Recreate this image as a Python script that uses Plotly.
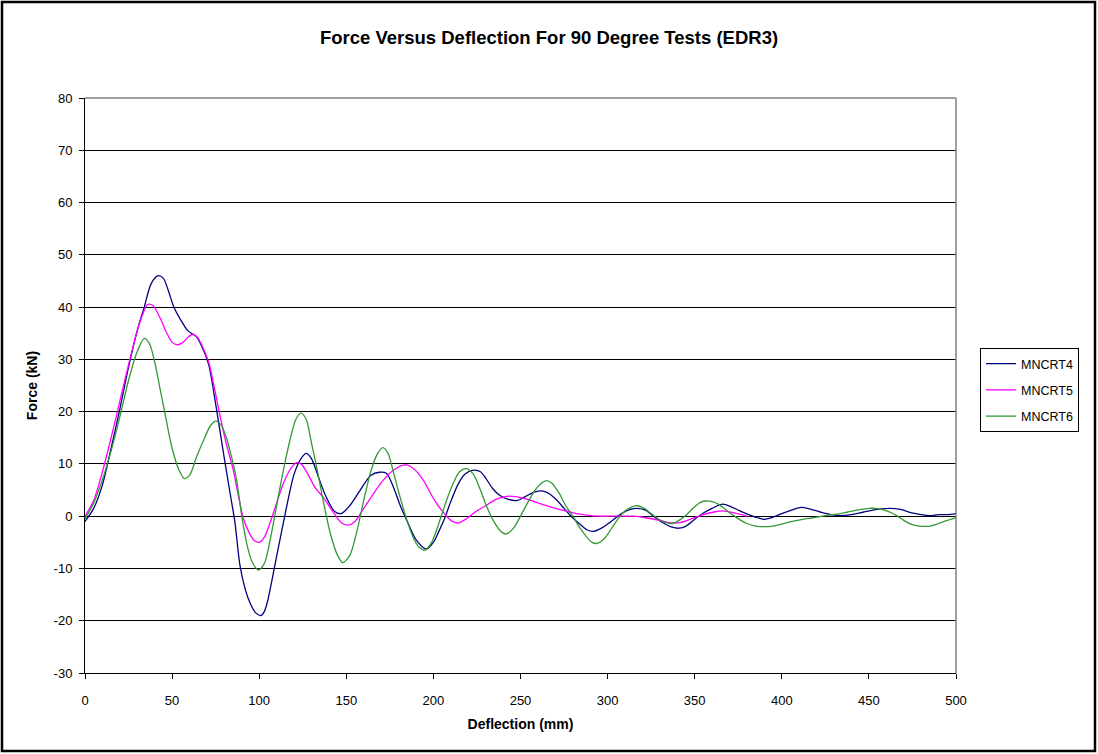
import plotly.graph_objects as go

title_text = "Force Versus Deflection For 90 Degree Tests (EDR3)"
x_title = "Deflection (mm)"
y_title = "Force (kN)"
series_names = ["MNCRT4", "MNCRT5", "MNCRT6"]

x_ticks = [0, 50, 100, 150, 200, 250, 300, 350, 400, 450, 500]
y_ticks = [-30, -20, -10, 0, 10, 20, 30, 40, 50, 60, 70, 80]
y_tick_labels = ["-30", "-20", "-10", "0", "10", "20", "30", "40", "50", "60", "70", "80"]

mncrt4_x = [0, 5, 10, 15, 20, 25, 30, 34, 38, 42, 45, 48, 51, 55, 59, 64, 67, 71, 75, 80, 84, 86, 89, 92, 95, 98, 101,
            103, 105, 110, 115, 120, 124, 127, 130, 134, 138, 143, 147, 152, 158, 164, 169, 173, 177, 181, 185, 190,
            196, 200, 203, 206, 210, 214, 218, 223, 227, 230, 234, 238, 243, 248, 253, 258, 263, 267, 271, 275, 279,
            284, 288, 292, 297, 302, 308, 313, 317, 322, 327, 332, 337, 341, 345, 350, 355, 360, 366, 371, 376, 381,
            386, 390, 395, 400, 406, 411, 416, 422, 428, 434, 440, 447, 455, 462, 468, 474, 480, 485, 490, 495, 500]
mncrt4_y = [-1, 1.5, 6, 13, 20.5, 28.5, 35.5, 40, 44.5, 46, 45.5, 43, 40, 37.5, 35.5, 34.3, 32.5, 29, 21.5, 11, 3, -1,
            -9.5, -14, -16.8, -18.5, -19, -18.2, -16, -7.7, 0.6, 8, 11, 12, 11, 7.5, 4, 1, 0.5, 2, 5, 7.8, 8.4, 8.2,
            5.6, 2, -1, -4.5, -6.3, -5, -3, -0.8, 2.8, 6, 8, 8.8, 8.5, 7.3, 5.3, 4, 3.2, 3, 3.8, 4.6, 4.8, 4.2, 3,
            1.5, 0, -1.5, -2.6, -2.9, -2.2, -1, 0.5, 1.3, 1.5, 1.1, -0.2, -1.3, -2.1, -2.3, -1.9, -0.6, 0.6, 1.5,
            2.3, 1.8, 1.0, 0.3, -0.3, -0.6, -0.2, 0.5, 1.2, 1.7, 1.4, 0.8, 0.3, 0.1, 0.3, 0.8, 1.3, 1.5, 1.3, 0.7,
            0.3, 0.1, 0.3, 0.3, 0.5]

mncrt5_x = [0, 5, 10, 15, 20, 25, 30, 33, 36, 39, 43, 47, 50, 53, 56, 59, 62, 65, 68, 71, 74, 77, 81, 85, 88, 91, 94,
            97, 100, 103, 106, 109, 113, 117, 121, 124, 128, 132, 137, 142, 147, 151, 155, 160, 165, 171, 177, 184,
            189, 194, 200, 205, 210, 214, 219, 224, 230, 236, 242, 248, 253, 258, 264, 270, 276, 282, 288, 295, 305,
            315, 322, 330, 337, 342, 348, 355, 361, 366, 372, 378, 380]
mncrt5_y = [0, 3, 8.5, 15, 22, 29, 35.5, 38.5, 40.5, 40.3, 38, 35, 33.3, 32.8, 33.2, 34.2, 34.8, 34, 32, 29.5, 25, 20,
            14, 9, 4, -0.5, -3, -4.6, -5, -4, -1.5, 1.5, 5.5, 8.5, 10.2, 10, 8, 5.5, 3.5, 1, -1.2, -1.7, -1, 1.5, 4,
            6.8, 8.8, 9.8, 9, 7, 3.4, 1, -0.8, -1.3, -0.5, 0.8, 2, 3.2, 3.8, 3.7, 3.3, 2.8, 2.1, 1.5, 1, 0.5, 0.2,
            0, 0, 0, -0.3, -0.8, -1.3, -1.2, -0.5, 0.3, 0.8, 1.0, 0.7, 0.2, 0]

mncrt6_x = [0, 5, 10, 15, 20, 25, 30, 34, 37, 40, 43, 46, 50, 54, 57, 60, 64, 68, 72, 75, 78, 81, 84, 87, 90, 93, 96,
            99.5, 103, 106, 110, 114, 118, 121, 124, 127, 130, 133, 137, 141, 145, 148, 152, 156, 160, 164, 168, 171,
            174, 177, 181, 185, 189, 192, 195, 199, 203, 207, 211, 215, 219, 223, 227, 231, 235, 239, 242, 246, 250,
            254, 258, 262, 265, 268, 272, 276, 280, 284, 288, 291, 294, 298, 302, 306, 310, 314, 317, 321, 325, 329,
            333, 337, 341, 345, 349, 353, 356, 360, 364, 368, 372, 376, 380, 385, 390, 395, 400, 406, 412, 418, 425,
            432, 438, 444, 450, 456, 461, 466, 470, 474, 479, 485, 490, 495, 500]
mncrt6_y = [-0.5, 2.5, 7, 12.5, 19, 26, 31.5, 34, 33, 29.5, 24.5, 19.5, 13, 8.8, 7.2, 7.8, 11.3, 14.5, 17.3, 18.2, 17.5,
            15.2, 11.5, 7, 0, -5.5, -8.8, -10.3, -9, -5, 2, 9, 15, 18.5, 19.7, 18.5, 14, 9.4, 2.5, -3.5, -7.5, -8.9,
            -7.5, -3, 3, 8.5, 12, 13.1, 12, 8.5, 3.5, -1, -4.5, -6, -6.5, -5, -1.5, 2.5, 6, 8.5, 9.1, 8, 5, 1.5,
            -1.2, -3, -3.4, -2.3, 0, 2.5, 4.8, 6.3, 6.8, 6.3, 4.5, 2, 0, -2.2, -4, -5, -5.2, -4.3, -2.5, -0.5, 1, 1.8,
            2, 1.5, 0.5, -0.5, -1.2, -1.4, -0.8, 0.2, 1.5, 2.6, 2.9, 2.8, 2.2, 1.2, 0.2, -0.7, -1.4, -1.9, -2, -1.9,
            -1.5, -1, -0.6, -0.3, 0.1, 0.4, 0.8, 1.2, 1.5, 1.4, 0.9, 0.1, -0.8, -1.5, -1.9, -1.9, -1.4, -0.8, -0.3]

colors = ["#000080", "#FF00FF", "#339933"]
FONT = "Arial, Liberation Sans, sans-serif"

fig = go.Figure()
for name, xs, ys, c in zip(series_names, [mncrt4_x, mncrt5_x, mncrt6_x], [mncrt4_y, mncrt5_y, mncrt6_y], colors):
    fig.add_trace(go.Scatter(x=xs, y=ys, name=name, mode="lines", legendgroup=name,
                             line=dict(color=c, width=1.3, shape="spline", smoothing=0.8)))

W, H = 1098, 754
L, R, T, B = 85, 956, 98, 673


def px_x(p):
    return (p - L) / (R - L)


def px_y(p):
    return (B - p) / (B - T)


fig.update_layout(
    width=W, height=H,
    margin=dict(l=L, r=W - R, t=T, b=H - B),
    paper_bgcolor="white", plot_bgcolor="white",
    font=dict(family=FONT, size=13, color="black"),
    title=dict(text="<b>" + title_text + "</b>", x=0.5, xref="container", xanchor="center",
               y=1 - 38 / H, yanchor="middle", font=dict(size=18.5, family=FONT, color="black")),
    showlegend=True,
    legend=dict(x=px_x(980), y=px_y(348), xanchor="left", yanchor="top",
                bordercolor="black", borderwidth=1, bgcolor="white",
                font=dict(size=12.5, family=FONT), tracegroupgap=7),
    xaxis=dict(range=[0, 500], tickvals=x_ticks, showgrid=False, zeroline=False,
               showline=True, linecolor="black", linewidth=1, ticks="outside", ticklen=5,
               tickcolor="black", ticklabelstandoff=10, tickfont=dict(size=13),
               title=dict(text="<b>" + x_title + "</b>", standoff=12, font=dict(size=14))),
    yaxis=dict(range=[-30, 80], tickvals=y_ticks, ticktext=y_tick_labels, showgrid=True,
               gridcolor="black", gridwidth=1,
               zeroline=False, showline=True, linecolor="black", linewidth=1, ticks="outside",
               ticklen=5, tickcolor="black", ticklabelstandoff=4, tickfont=dict(size=13),
               title=dict(text="<b>" + y_title + "</b>", standoff=12, font=dict(size=14))),
)

# plot area top/right border (gray) and outer chart frame
fig.add_shape(type="line", xref="paper", yref="paper", x0=0, x1=1, y0=1, y1=1,
              line=dict(color="#808080", width=1.5), layer="above")
fig.add_shape(type="line", xref="paper", yref="paper", x0=1, x1=1, y0=0, y1=1,
              line=dict(color="#808080", width=1.5), layer="above")
fig.add_shape(type="rect", xref="paper", yref="paper",
              x0=px_x(2), x1=px_x(1095), y0=px_y(751), y1=px_y(2),
              line=dict(color="black", width=2.5), fillcolor="rgba(0,0,0,0)", layer="above")

fig.write_html("out.html")
